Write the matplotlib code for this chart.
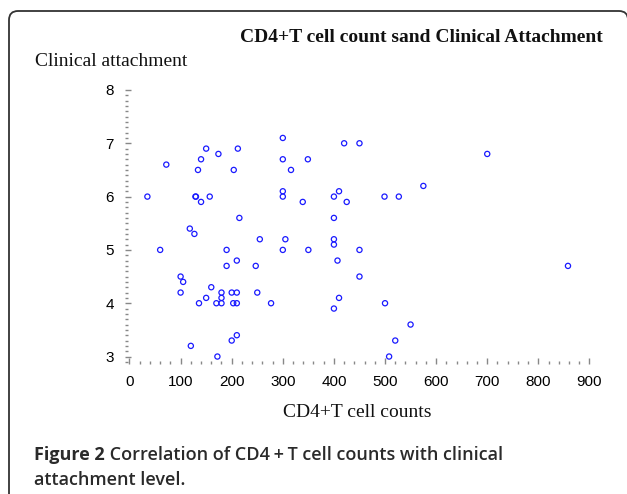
import matplotlib
matplotlib.use("Agg")
import matplotlib.pyplot as plt
from matplotlib.patches import FancyBboxPatch
from matplotlib.ticker import MultipleLocator

cd4_counts = [300, 150, 212, 174, 140, 300, 349, 72, 134, 204, 316, 300, 35, 129, 130,
              157, 300, 140, 339, 215, 420, 450, 700, 575, 410, 400, 499, 527, 425, 400,
              118, 127, 255, 305, 60, 190, 300, 350, 210, 190, 247, 100, 105, 160, 100,
              180, 200, 210, 250, 150, 180, 136, 170, 180, 203, 210, 277, 210, 200, 120,
              172, 400, 400, 450, 407, 858, 450, 410, 500, 400, 550, 520, 508]
clinical_att = [7.1, 6.9, 6.9, 6.8, 6.7, 6.7, 6.7, 6.6, 6.5, 6.5, 6.5, 6.1, 6.0, 6.0, 6.0,
                6.0, 6.0, 5.9, 5.9, 5.6, 7.0, 7.0, 6.8, 6.2, 6.1, 6.0, 6.0, 6.0, 5.9, 5.6,
                5.4, 5.3, 5.2, 5.2, 5.0, 5.0, 5.0, 5.0, 4.8, 4.7, 4.7, 4.5, 4.4, 4.3, 4.2,
                4.2, 4.2, 4.2, 4.2, 4.1, 4.1, 4.0, 4.0, 4.0, 4.0, 4.0, 4.0, 3.4, 3.3, 3.2,
                3.0, 5.2, 5.1, 5.0, 4.8, 4.7, 4.5, 4.1, 4.0, 3.9, 3.6, 3.3, 3.0]
x_ticks = [0, 100, 200, 300, 400, 500, 600, 700, 800, 900]
y_ticks = [3, 4, 5, 6, 7, 8]

W, H = 627, 494
fig = plt.figure(figsize=(W / 100, H / 100), dpi=100)

# frame (rounded box, cropped at right/bottom)
box = FancyBboxPatch((9, -30), 619, 30 + (H - 11), boxstyle="round,pad=0,rounding_size=9",
                     transform=None, fill=False, edgecolor="#333333", linewidth=1.3)
fig.add_artist(box)

def fx(px):
    return px / W

def fy(py):
    return 1 - py / H

ax = fig.add_axes([fx(125), fy(364), fx(592) - fx(125), fy(87.3) - fy(364)])
ax.scatter(cd4_counts, clinical_att, s=14, facecolors="none", edgecolors="#1a1aff",
           linewidths=0.9, zorder=3)
ax.set_xlim(-8.8, 905)
ax.set_ylim(2.86, 8.05)
for sp in ax.spines.values():
    sp.set_visible(False)
ax.set_xticks(x_ticks)
ax.set_yticks(y_ticks)
ax.xaxis.set_minor_locator(MultipleLocator(20))
ax.yaxis.set_minor_locator(MultipleLocator(0.1))
ax.tick_params(axis="both", which="major", length=4, width=1.0, color="#888888",
               labelsize=11, direction="in")
ax.tick_params(axis="both", which="minor", length=2, width=1.0, color="#888888",
               direction="in")
ax.tick_params(axis="x", which="major", pad=8)
ax.tick_params(axis="y", which="major", pad=8)
for lab in ax.get_xticklabels() + ax.get_yticklabels():
    lab.set_fontfamily("Liberation Sans")

serif = "Liberation Serif"
fig.text(fx(421.5), fy(38), "CD4+T cell count sand Clinical Attachment", ha="center",
         va="center", fontsize=14, fontweight="bold", family=serif, color="#111111")
fig.text(fx(35), fy(61), "Clinical attachment", ha="left", va="center", fontsize=14,
         family=serif, color="#111111")
fig.text(fx(357), fy(412), "CD4+T cell counts", ha="center", va="center",
         fontsize=14, family=serif, color="#111111")

cap_font = "Open Sans"
t1 = fig.text(fx(34), fy(455), "Figure 2", ha="left", va="center", fontsize=13,
              fontweight="bold", family=cap_font, color="#2a2a2a")
fig.canvas.draw()
bb = t1.get_window_extent(renderer=fig.canvas.get_renderer())
fig.text(bb.x1 / W, fy(455), " Correlation of CD4\u2009+\u2009T cell counts with clinical",
         ha="left", va="center", fontsize=13, fontweight="semibold", family=cap_font,
         color="#2a2a2a")
fig.text(fx(34), fy(480), "attachment level.", ha="left", va="center", fontsize=13,
         fontweight="semibold", family=cap_font, color="#2a2a2a")

fig.savefig("out.png", dpi=100)
